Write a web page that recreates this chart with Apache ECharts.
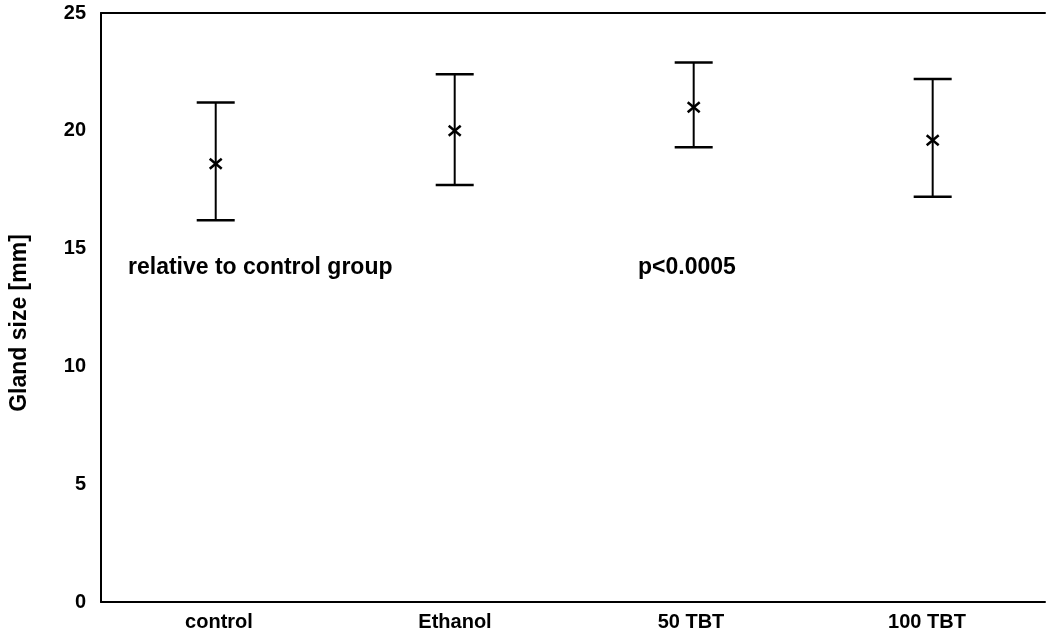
<!DOCTYPE html>
<html>
<head>
<meta charset="utf-8">
<script src="https://cdn.jsdelivr.net/npm/echarts@6/dist/echarts.min.js"></script>
<style>html,body{margin:0;padding:0;background:#fff}#c{width:1048px;height:636px}</style>
</head>
<body>
<div id="c"></div>
<script>
const categories = ['control', 'Ethanol', '50 TBT', '100 TBT'];
const means = [18.6, 20.0, 21.0, 19.6];
const lows = [16.2, 17.7, 19.3, 17.2];
const highs = [21.2, 22.4, 22.9, 22.2];
const yTicks = [0, 5, 10, 15, 20, 25];
const yTitle = 'Gland size [mm]';
const annotations = ['relative to control group', 'p<0.0005'];

const FONT = '"Liberation Sans", Arial, sans-serif';
const chart = echarts.init(document.getElementById('c'));
const data = categories.map((c, i) => [i, lows[i], highs[i], means[i]]);

chart.setOption({
  animation: false,
  backgroundColor: '#fff',
  grid: { left: 101, right: 3, top: 13, bottom: 34 },
  xAxis: [{
    type: 'category',
    data: categories,
    axisLine: { onZero: false, lineStyle: { color: '#000', width: 2 } },
    axisTick: { show: false },
    axisLabel: { color: '#000', fontFamily: FONT, fontWeight: 'bold', fontSize: 20, margin: 10 }
  }, {
    type: 'category',
    position: 'top',
    data: categories,
    axisLine: { show: true, onZero: false, lineStyle: { color: '#000', width: 2 } },
    axisTick: { show: false },
    axisLabel: { show: false }
  }, {
    type: 'value',
    show: false,
    min: -0.48, max: 3.47
  }],
  yAxis: {
    type: 'value',
    min: yTicks[0], max: yTicks[yTicks.length - 1], interval: 5,
    axisLine: { show: true, onZero: false, lineStyle: { color: '#000', width: 2 } },
    axisTick: { show: false },
    splitLine: { show: false },
    axisLabel: { color: '#000', fontFamily: FONT, fontWeight: 'bold', fontSize: 20, margin: 15, padding: [6, 0, 0, 0] }
  },
  series: [{
    type: 'custom',
    xAxisIndex: 2,
    data: data,
    renderItem: function (params, api) {
      const x = api.value(0);
      const lo = api.coord([x, api.value(1)]);
      const hi = api.coord([x, api.value(2)]);
      const m = api.coord([x, api.value(3)]);
      const cw = 19, s = 6;
      const st = { stroke: '#000', lineWidth: 2 };
      const thick = { stroke: '#000', lineWidth: 2.5 };
      return {
        type: 'group',
        children: [
          { type: 'line', shape: { x1: lo[0], y1: lo[1], x2: hi[0], y2: hi[1] }, style: st },
          { type: 'line', shape: { x1: hi[0] - cw, y1: hi[1], x2: hi[0] + cw, y2: hi[1] }, style: thick },
          { type: 'line', shape: { x1: lo[0] - cw, y1: lo[1], x2: lo[0] + cw, y2: lo[1] }, style: thick },
          { type: 'line', shape: { x1: m[0] - s, y1: m[1] - s + 1, x2: m[0] + s, y2: m[1] + s - 1 }, style: thick },
          { type: 'line', shape: { x1: m[0] - s, y1: m[1] + s - 1, x2: m[0] + s, y2: m[1] - s + 1 }, style: thick }
        ]
      };
    }
  }],
  graphic: [
    { type: 'text', x: 20, y: 323, rotation: Math.PI / 2,
      style: { text: yTitle, fill: '#000', font: 'bold 23px ' + FONT, align: 'center', verticalAlign: 'middle' } },
    { type: 'text', x: 128, y: 268, style: { text: annotations[0], fill: '#000', font: 'bold 23px ' + FONT, verticalAlign: 'middle' } },
    { type: 'text', x: 638, y: 268, style: { text: annotations[1], fill: '#000', font: 'bold 23px ' + FONT, verticalAlign: 'middle' } }
  ]
});
</script>
</body>
</html>
